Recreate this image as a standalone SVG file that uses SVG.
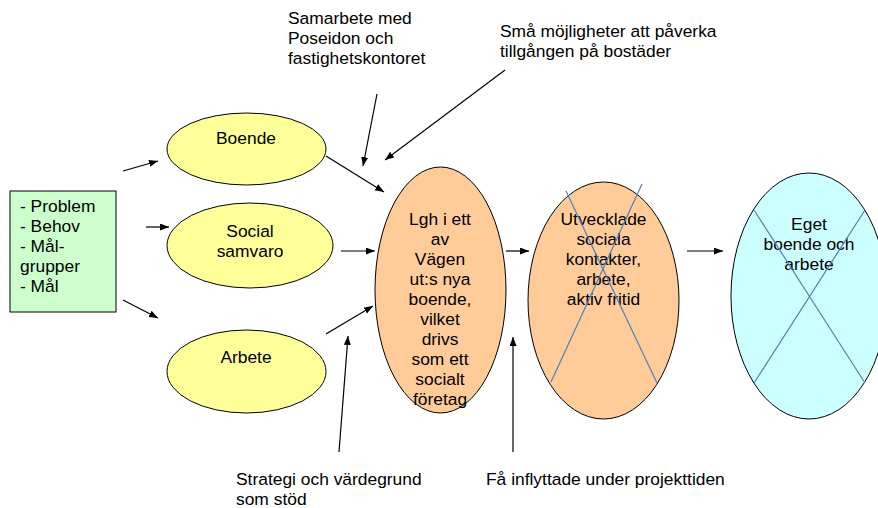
<svg xmlns="http://www.w3.org/2000/svg" width="878" height="508" viewBox="0 0 878 508">
<style>
text{font-family:"Liberation Sans",Arial,sans-serif;font-size:17.4px;fill:#000}
.c{text-anchor:middle}
.n{stroke:#000;stroke-width:1}
.y{fill:#FFFF99}
.o{fill:#FFCC99}
.b{fill:#CCFFFF}
.g{fill:#CCFFCC}
.x{stroke:#4F81BD;stroke-width:1.2}
.e line{stroke:#000;stroke-width:1.2;marker-end:url(#ah)}
</style>
<defs>
<marker id="ah" markerUnits="userSpaceOnUse" markerWidth="10" markerHeight="8" refX="9" refY="3.5" orient="auto">
<path d="M0,0 L9,3.5 L0,7 z" fill="#000"/>
</marker>
</defs>
<rect width="878" height="508" fill="#fff"/>
<g id="input">
<rect class="n g" x="10" y="191" width="106" height="121"/>
<text x="20" y="212">- Problem</text>
<text x="20" y="232">- Behov</text>
<text x="20" y="252">- Mål-</text>
<text x="20" y="272">grupper</text>
<text x="20" y="292">- Mål</text>
</g>
<g id="boende">
<ellipse class="n y" cx="246.5" cy="149" rx="79.5" ry="36"/>
<text class="c" x="246" y="144">Boende</text>
</g>
<g id="social">
<ellipse class="n y" cx="250" cy="245.5" rx="83" ry="42.5"/>
<text class="c" x="250" y="237">Social</text>
<text class="c" x="250" y="257">samvaro</text>
</g>
<g id="arbete">
<ellipse class="n y" cx="246.5" cy="371.5" rx="79.5" ry="41.5"/>
<text class="c" x="246" y="363">Arbete</text>
</g>
<g id="lgh">
<ellipse class="n o" cx="440.5" cy="290" rx="65.5" ry="123"/>
<text class="c" x="440" y="225">Lgh i ett</text>
<text class="c" x="440" y="245">av</text>
<text class="c" x="440" y="265">Vägen</text>
<text class="c" x="440" y="285">ut:s nya</text>
<text class="c" x="440" y="305">boende,</text>
<text class="c" x="440" y="325">vilket</text>
<text class="c" x="440" y="345">drivs</text>
<text class="c" x="440" y="365">som ett</text>
<text class="c" x="440" y="385">socialt</text>
<text class="c" x="440" y="405">företag</text>
</g>
<g id="utvecklade">
<ellipse class="n o" cx="603.5" cy="300.5" rx="75.5" ry="118.5"/>
<text class="c" x="603.5" y="225">Utvecklade</text>
<text class="c" x="603.5" y="245">sociala</text>
<text class="c" x="603.5" y="265">kontakter,</text>
<text class="c" x="603.5" y="285">arbete,</text>
<text class="c" x="603.5" y="305">aktiv fritid</text>
<line class="x" x1="566" y1="191" x2="657" y2="383"/>
<line class="x" x1="642" y1="184" x2="551" y2="382"/>
</g>
<g id="eget">
<ellipse class="n b" cx="809" cy="296" rx="78" ry="123"/>
<text class="c" x="809" y="230">Eget</text>
<text class="c" x="809" y="250">boende och</text>
<text class="c" x="809" y="270">arbete</text>
<line class="x" x1="754" y1="210" x2="865" y2="383"/>
<line class="x" x1="865" y1="210" x2="754" y2="383"/>
</g>
<g id="labels">
<text x="288" y="24">Samarbete med</text>
<text x="288" y="44">Poseidon och</text>
<text x="288" y="64">fastighetskontoret</text>
<text x="500" y="37">Små möjligheter att påverka</text>
<text x="500" y="57">tillgången på bostäder</text>
<text x="236" y="485">Strategi och värdegrund</text>
<text x="236" y="505">som stöd</text>
<text x="486" y="485">Få inflyttade under projekttiden</text>
</g>
<g id="connectors" class="e">
<line x1="123" y1="171" x2="158" y2="161"/>
<line x1="146" y1="227" x2="169" y2="227"/>
<line x1="123" y1="300" x2="158" y2="318"/>
<line x1="326" y1="156" x2="384" y2="192"/>
<line x1="341" y1="251" x2="375" y2="251"/>
<line x1="326" y1="334" x2="373" y2="306"/>
<line x1="377" y1="94" x2="363" y2="166"/>
<line x1="505" y1="70" x2="385" y2="160"/>
<line x1="339" y1="452" x2="348" y2="336"/>
<line x1="513" y1="452" x2="513" y2="337"/>
<line x1="506" y1="251" x2="529" y2="251"/>
<line x1="687" y1="251" x2="723" y2="251"/>
</g>
</svg>
